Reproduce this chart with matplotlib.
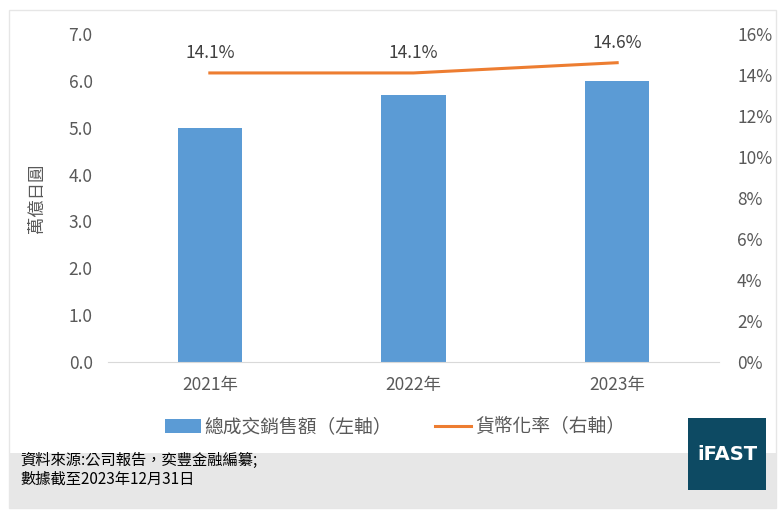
import matplotlib.pyplot as plt
from matplotlib.patches import Rectangle

plt.rcParams['font.family'] = ['Noto Sans CJK TC', 'DejaVu Sans']

years = ['2021年', '2022年', '2023年']
sales = [5.0, 5.7, 6.0]
rate = [14.1, 14.1, 14.6]
rate_labels = ['14.1%', '14.1%', '14.6%']

grey = '#595959'
bar_color = '#5b9bd5'
line_color = '#ed7d31'

W, H = 784, 513
fig = plt.figure(figsize=(7.84, 5.13), dpi=100)

def fx(px):
    return px / W

def fy(py):
    return 1 - py / H

# outer border and footer band
fig.patches.append(Rectangle((fx(9), fy(508)), fx(767), (508 - 10) / H,
                             transform=fig.transFigure, facecolor='white',
                             edgecolor='#e6e6e6', lw=1, zorder=-2))
fig.patches.append(Rectangle((fx(9), fy(508)), fx(767), (508 - 453) / H,
                             transform=fig.transFigure, facecolor='#e7e7e7',
                             edgecolor='none', zorder=-1))

ax = fig.add_axes([fx(108), fy(362), fx(719 - 108), (362 - 34) / H])
ax.set_facecolor('none')
x = range(len(years))
bars = ax.bar(x, sales, width=0.315, color=bar_color, zorder=2)
ax.set_xlim(-0.5, 2.5)
ax.set_ylim(0, 7)
ax.set_yticks([0, 1, 2, 3, 4, 5, 6, 7])
ax.set_yticklabels([f'{v:.1f}' for v in range(8)])
ax.set_xticks(list(x))
ax.set_xticklabels(years)
for s in ['top', 'right', 'left']:
    ax.spines[s].set_visible(False)
ax.spines['bottom'].set_color('#d9d9d9')
ax.tick_params(axis='both', length=0, colors=grey, labelsize=12.5)
ax.tick_params(axis='y', pad=11)
ax.tick_params(axis='x', pad=10)
ax.set_ylabel('萬億日圓', color=grey, fontsize=12.5, labelpad=16)

ax2 = ax.twinx()
line, = ax2.plot(list(x), rate, color=line_color, lw=2.2, zorder=3)
ax2.set_ylim(0, 16)
ax2.set_yticks(range(0, 17, 2))
ax2.set_yticklabels([f'{v}%' for v in range(0, 17, 2)])
for s in ['top', 'right', 'left', 'bottom']:
    ax2.spines[s].set_visible(False)
ax2.tick_params(axis='y', length=0, colors=grey, labelsize=12.5, pad=13)
for xi, r, lab in zip(x, rate, rate_labels):
    ax2.annotate(lab, (xi, r), xytext=(0, 8), textcoords='offset points',
                 ha='center', va='bottom', color='#404040', fontsize=12.5)

fig.legend([bars, line], ['總成交銷售額（左軸）', '貨幣化率（右軸）'],
           loc='center', bbox_to_anchor=(fx(395), fy(427)), ncol=2,
           frameon=False, fontsize=13.5, labelcolor=grey,
           handlelength=1.9, handletextpad=0.2, columnspacing=2.3)

fig.text(fx(20), fy(470), '資料來源:公司報告，奕豐金融編纂;\n數據截至2023年12月31日',
         fontsize=11, color='black', va='center', ha='left', linespacing=1.15)

fig.patches.append(Rectangle((fx(688), fy(490)), fx(78), (490 - 418) / H,
                             transform=fig.transFigure, facecolor='#0d4a63',
                             edgecolor='none', zorder=2))
fig.text(fx(727), fy(454), 'iFAST', color='white', fontsize=14,
         fontweight='bold', ha='center', va='center', family='DejaVu Sans',
         zorder=3)

fig.savefig('out.png', dpi=100)
